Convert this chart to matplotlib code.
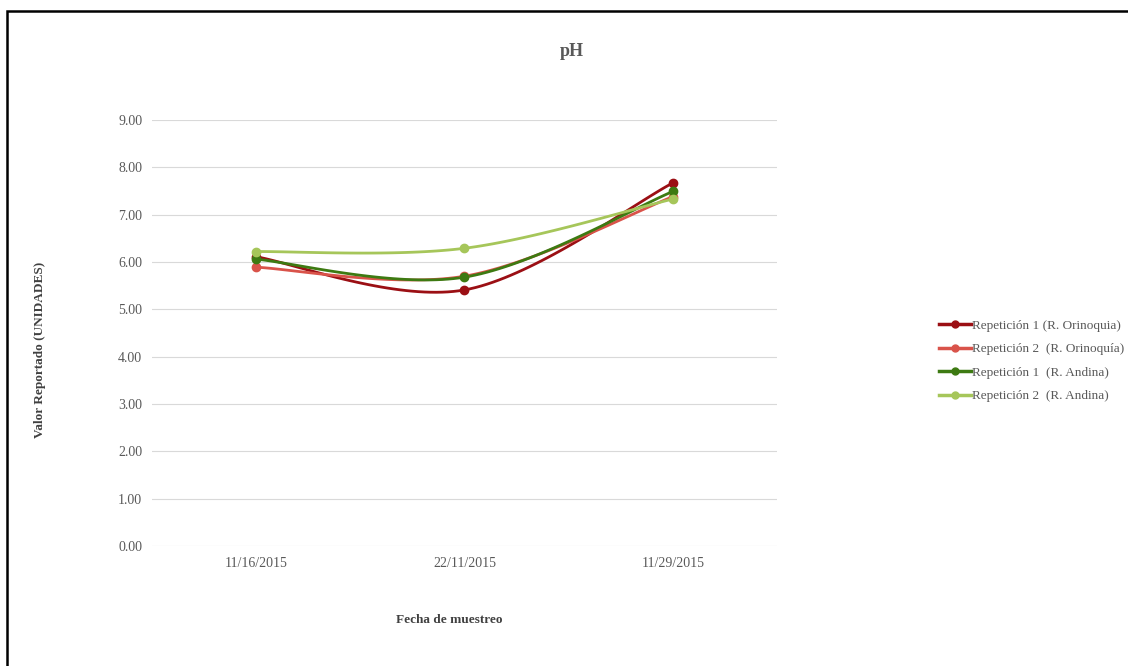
import numpy as np
import matplotlib.pyplot as plt
from matplotlib.patches import Rectangle
from matplotlib.lines import Line2D

plt.rcParams['font.family'] = ['Liberation Serif', 'DejaVu Serif']

fechas = ['11/16/2015', '22/11/2015', '11/29/2015']
rep1_orinoquia = [6.11, 5.41, 7.67]
rep2_orinoquia = [5.89, 5.70, 7.38]
rep1_andina = [6.06, 5.68, 7.49]
rep2_andina = [6.22, 6.29, 7.33]

series = [
    ('Repetición 1 (R. Orinoquia)', rep1_orinoquia, '#9b0f14'),
    ('Repetición 2  (R. Orinoquía)', rep2_orinoquia, '#d9534a'),
    ('Repetición 1  (R. Andina)', rep1_andina, '#3d7a12'),
    ('Repetición 2  (R. Andina)', rep2_andina, '#a6c65a'),
]


def curva_suave(x, y, n=40):
    # Bezier por tramos, como la linea suavizada de Excel
    pts = np.column_stack([x, y]).astype(float)
    ext = np.vstack([pts[0], pts, pts[-1]])
    t = np.linspace(0, 1, n)[:, None]
    out = []
    for i in range(len(pts) - 1):
        p0, p1, p2, p3 = ext[i], ext[i + 1], ext[i + 2], ext[i + 3]
        c1 = p1 + (p2 - p0) / 6
        c2 = p2 - (p3 - p1) / 6
        seg = ((1 - t) ** 3) * p1 + 3 * ((1 - t) ** 2) * t * c1 \
            + 3 * (1 - t) * t ** 2 * c2 + t ** 3 * p2
        out.append(seg)
    out = np.vstack(out)
    return out[:, 0], out[:, 1]


fig = plt.figure(figsize=(11.28, 6.66), dpi=100)
ax = fig.add_axes([152 / 1128, 1 - 546 / 666, (777 - 152) / 1128, (546 - 120) / 666])

x = np.arange(len(fechas))
for nombre, vals, color in series:
    xs, ys = curva_suave(x, vals)
    ax.plot(xs, ys, color=color, lw=2.0, solid_capstyle='round', zorder=3)
    ax.plot(x, vals, 'o', color=color, ms=6, zorder=4)

ax.set_xlim(-0.5, 2.5)
ax.set_ylim(0, 9)
ax.set_yticks(np.arange(0, 10, 1))
ax.set_yticklabels([f'{v:.2f}' for v in range(10)])
ax.set_xticks(x)
ax.set_xticklabels(fechas)
ax.grid(axis='y', color='#d9d9d9', lw=0.8)
ax.set_axisbelow(True)
for s in ax.spines.values():
    s.set_visible(False)
ax.tick_params(length=0, colors='#595959', labelsize=10)
ax.tick_params(axis='y', pad=7)
ax.tick_params(axis='x', pad=8)

fig.text(572 / 1128, 1 - 52 / 666, 'pH', ha='center', va='center',
         fontsize=13, fontweight='bold', color='#595959')
fig.text(449 / 1128, 1 - 620 / 666, 'Fecha de muestreo', ha='center', va='center',
         fontsize=9.5, fontweight='bold', color='#404040')
fig.text(40 / 1128, 1 - 350 / 666, 'Valor Reportado (UNIDADES)', ha='center', va='center',
         rotation=90, fontsize=9.5, fontweight='bold', color='#404040')

handles = [Line2D([0], [0], color=c, lw=2.5, marker='o', ms=5) for _, _, c in series]
fig.legend(handles, [n for n, _, _ in series], loc='center left',
           bbox_to_anchor=(927 / 1128, 1 - 361 / 666), frameon=False,
           fontsize=9.5, labelcolor='#595959', handlelength=2.4, handletextpad=0.1,
           labelspacing=0.85)

fig.patches.append(Rectangle((7 / 1128, -0.05), 1.2, 1.05 - 11 / 666, transform=fig.transFigure,
                             fill=False, edgecolor='black', lw=1.8))

fig.savefig('out.png', dpi=100)
